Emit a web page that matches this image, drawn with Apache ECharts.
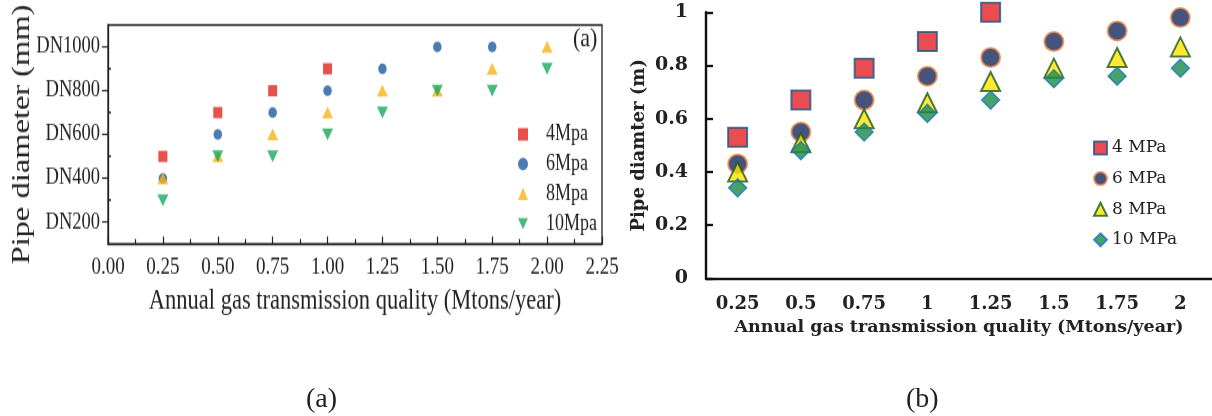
<!DOCTYPE html>
<html>
<head>
<meta charset="utf-8">
<script src="https://cdn.jsdelivr.net/npm/echarts@6/dist/echarts.min.js"></script>
<style>
  html, body { margin: 0; padding: 0; background: #ffffff; }
  #wrap { position: relative; width: 1212px; height: 416px; overflow: hidden; }
  /* panel (a) is laid out in a shorter box and stretched vertically */
  #chartA { position: absolute; left: 0; top: 0; width: 620px; height: 333px;
            transform: scaleY(1.25); transform-origin: 0 0; }
  #chartB { position: absolute; left: 0; top: 0; width: 1212px; height: 416px; }
</style>
</head>
<body>
<div id="wrap">
  <div id="chartA"></div>
  <div id="chartB"></div>
</div>
<script>
// ---- Panel (a): nominal diameter vs. annual throughput ----
const flowA = [0.25, 0.5, 0.75, 1.0, 1.25, 1.5, 1.75, 2.0];
const dnA4  = [500, 700, 800, 900];
const dnA6  = [400, 600, 700, 800, 900, 1000, 1000];
const dnA8  = [400, 500, 600, 700, 800, 800, 900, 1000];
const dnA10 = [300, 500, 500, 600, 700, 800, 800, 900];
const namesA = ['4Mpa', '6Mpa', '8Mpa', '10Mpa'];
const dnTicks = [200, 400, 600, 800, 1000];
const dnMinor = [300, 500, 700, 900];

// ---- Panel (b): pipe diameter in metres ----
const flowB = ['0.25', '0.5', '0.75', '1', '1.25', '1.5', '1.75', '2'];
const diaB4  = [0.53, 0.67, 0.79, 0.89, 1.00];
const diaB6  = [0.43, 0.55, 0.67, 0.76, 0.83, 0.89, 0.93, 0.98];
const diaB8  = [0.40, 0.51, 0.60, 0.66, 0.74, 0.79, 0.83, 0.87];
const diaB10 = [0.34, 0.48, 0.55, 0.62, 0.67, 0.75, 0.76, 0.79];
const namesB = ['4 MPa', '6 MPa', '8 MPa', '10 MPa'];

const serifA = "'Liberation Serif', 'Times New Roman', serif";
const serifB = "'DejaVu Serif', serif";
const ink = '#222';

function pairs(xs, ys) { return ys.map((y, i) => [xs[i], y]); }

const downTri = 'path://M0,0L10,0L5,9Z';

const chartA = echarts.init(document.getElementById('chartA'));
chartA.setOption({
  animation: false,
  grid: { left: 108, top: 20, width: 494, height: 175.2, show: true, outerBoundsMode: 'none',
          borderColor: ink, borderWidth: 1.3, backgroundColor: 'transparent' },
  legend: {
    orient: 'vertical', left: 518, top: 98.5, padding: 0,
    itemWidth: 10, itemHeight: 10, itemGap: 5.8,
    data: namesA,
    textStyle: { fontFamily: serifA, fontSize: 18, color: ink, padding: [0, 0, 0, 13] }
  },
  xAxis: {
    type: 'value', min: 0, max: 2.25, interval: 0.25,
    axisLine: { onZero: false, lineStyle: { color: ink, width: 1.3 } },
    axisTick: { inside: true, length: 6, lineStyle: { color: ink, width: 1.2 } },
    minorTick: { show: true, splitNumber: 2, length: 4, lineStyle: { color: ink, width: 1.2 } },
    splitLine: { show: false },
    axisLabel: { formatter: v => v.toFixed(2), fontFamily: serifA, fontSize: 19, color: ink, margin: 9 },
    name: 'Annual gas transmission quality (Mtons/year)',
    nameLocation: 'middle', nameGap: 34, nameMoveOverlap: false,
    nameTextStyle: { fontFamily: serifA, fontSize: 22.5, color: ink }
  },
  yAxis: [{
    type: 'value', min: 100, max: 1100,
    axisLine: { onZero: false, lineStyle: { color: ink, width: 1.3 } },
    axisTick: { inside: false, length: 6, customValues: dnTicks, lineStyle: { color: ink, width: 1.2 } },
    axisLabel: { customValues: dnTicks, formatter: v => 'DN' + v, fontFamily: serifA, fontSize: 18.5, color: ink, margin: 8 },
    splitLine: { show: false },
    name: 'Pipe diameter (mm)', nameLocation: 'middle', nameGap: 73, nameMoveOverlap: false,
    nameTextStyle: { fontFamily: serifA, fontSize: 26, color: ink }
  }, {
    type: 'value', min: 100, max: 1100, position: 'left',
    axisLine: { show: false },
    axisTick: { inside: true, length: 3, customValues: dnMinor, lineStyle: { color: ink, width: 1.5 } },
    axisLabel: { show: false },
    splitLine: { show: false }
  }],
  graphic: [{
    type: 'text', left: 573, top: 20,
    style: { text: '(a)', fontFamily: serifA, fontSize: 22, fill: ink }
  }],
  series: [
    { name: namesA[0], type: 'scatter', symbol: 'rect', symbolSize: 9,
      itemStyle: { color: '#e0261f' }, data: pairs(flowA, dnA4) },
    { name: namesA[1], type: 'scatter', symbol: 'circle', symbolSize: 8.5,
      itemStyle: { color: '#1d5aa0' }, data: pairs(flowA, dnA6) },
    { name: namesA[2], type: 'scatter', symbol: 'triangle', symbolSize: [11, 9.5],
      itemStyle: { color: '#f9b315' }, data: pairs(flowA, dnA8) },
    { name: namesA[3], type: 'scatter', symbol: downTri, symbolSize: [11, 9.5],
      itemStyle: { color: '#17a95b' }, data: pairs(flowA, dnA10) }
  ]
});

const chartB = echarts.init(document.getElementById('chartB'));
const axisInk = '#111';
chartB.setOption({
  animation: false,
  grid: { left: 706, top: 12.3, right: 0, height: 266, outerBoundsMode: 'none' },
  legend: {
    orient: 'vertical', left: 1093, top: 139.5, padding: 0,
    itemWidth: 13, itemHeight: 13, itemGap: 13.6,
    data: namesB,
    textStyle: { fontFamily: serifB, fontSize: 17, color: ink }
  },
  xAxis: [{
    type: 'category', data: flowB, boundaryGap: true,
    axisLine: { lineStyle: { color: axisInk, width: 2.4 } },
    axisTick: { alignWithLabel: true, inside: false, length: 5, lineStyle: { color: axisInk, width: 2.4 } },
    axisLabel: { fontFamily: serifB, fontWeight: 'bold', fontSize: 18, color: ink, margin: 17 },
    name: 'Annual gas transmission quality (Mtons/year)',
    nameLocation: 'middle', nameGap: 40, nameMoveOverlap: false,
    nameTextStyle: { fontFamily: serifB, fontWeight: 'bold', fontSize: 17.5, color: ink }
  }, {
    type: 'category', data: flowB, boundaryGap: true, position: 'bottom',
    axisLine: { show: false },
    axisTick: { alignWithLabel: true, inside: true, length: 5, lineStyle: { color: axisInk, width: 2.4 } },
    axisLabel: { show: false }
  }],
  yAxis: {
    type: 'value', min: 0, max: 1, interval: 0.2,
    axisLine: { show: true, lineStyle: { color: axisInk, width: 2.4 } },
    axisTick: { show: true, inside: true, length: 7, lineStyle: { color: axisInk, width: 2.4 } },
    axisLabel: { fontFamily: serifB, fontWeight: 'bold', fontSize: 19, color: ink, margin: 18 },
    splitLine: { show: false },
    name: 'Pipe diamter (m)', nameLocation: 'middle', nameGap: 58, nameMoveOverlap: false,
    nameTextStyle: { fontFamily: serifB, fontWeight: 'bold', fontSize: 18, color: ink }
  },
  graphic: [
    { type: 'text', left: 306, top: 386,
      style: { text: '(a)', fontFamily: serifA, fontSize: 28, fill: ink } },
    { type: 'text', left: 906, top: 386,
      style: { text: '(b)', fontFamily: serifA, fontSize: 28, fill: ink } }
  ],
  series: [
    { name: namesB[0], type: 'scatter', symbol: 'rect', symbolSize: 19, clip: false,
      itemStyle: { color: '#e41f26', borderColor: '#1f5588', borderWidth: 2 }, data: diaB4 },
    { name: namesB[1], type: 'scatter', symbol: 'circle', symbolSize: 19, clip: false,
      itemStyle: { color: '#15295c', borderColor: '#f08a4b', borderWidth: 2 }, data: diaB6 },
    { name: namesB[2], type: 'scatter', symbol: 'triangle', symbolSize: 19, clip: false,
      itemStyle: { color: '#ffe500', borderColor: '#1e5a1a', borderWidth: 2 }, data: diaB8 },
    { name: namesB[3], type: 'scatter', symbol: 'diamond', symbolSize: 18, clip: false,
      itemStyle: { color: '#1a8a45', borderColor: '#1e78c2', borderWidth: 1.5 }, data: diaB10 }
  ]
});
</script>
</body>
</html>
